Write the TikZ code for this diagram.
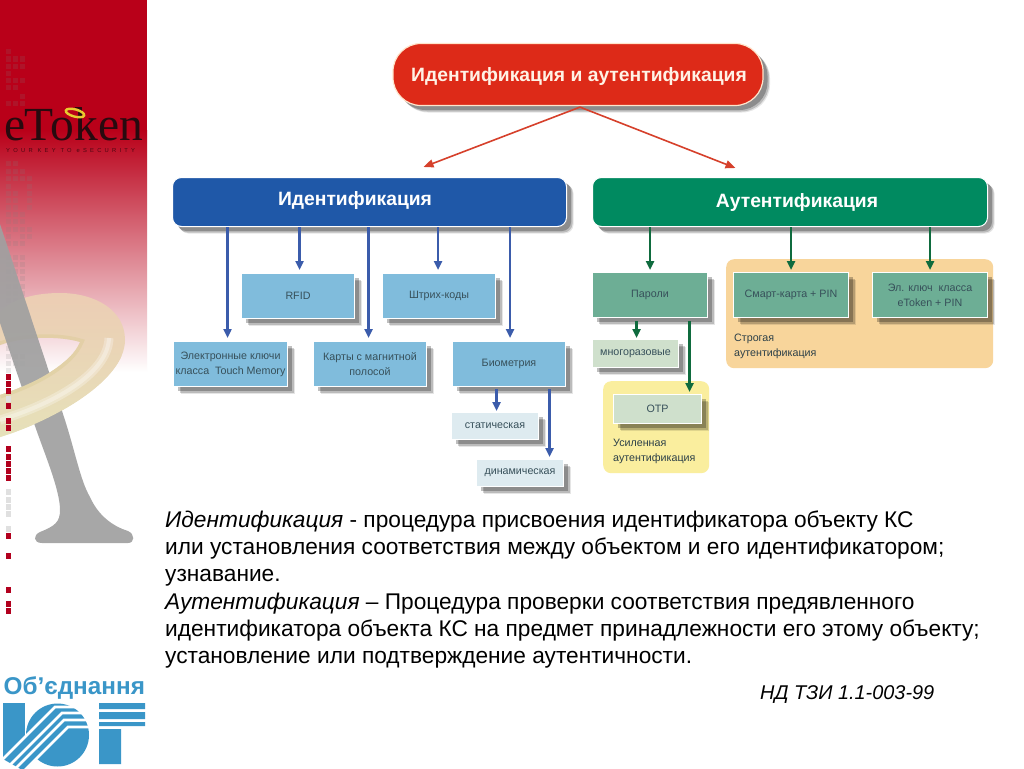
\documentclass[tikz,border=0pt]{standalone}
\usepackage{fontspec}
\setmainfont{Liberation Sans}
\newfontfamily\logoserif{Liberation Serif}
\newfontfamily\logotag[LetterSpace=56]{Liberation Sans}
\usetikzlibrary{arrows.meta,shadows}
\definecolor{sidered}{RGB}{185,0,25}
\definecolor{sidemid}{RGB}{228,160,170}
\definecolor{topred}{RGB}{221,42,24}
\definecolor{idblue}{RGB}{31,88,168}
\definecolor{authgreen}{RGB}{0,138,96}
\definecolor{boxblue}{RGB}{128,188,220}
\definecolor{boxgreen}{RGB}{109,174,149}
\definecolor{palebl}{RGB}{222,235,240}
\definecolor{palegr}{RGB}{207,224,204}
\definecolor{zoneor}{RGB}{248,213,155}
\definecolor{zoneye}{RGB}{250,238,158}
\definecolor{arrblue}{RGB}{59,92,171}
\definecolor{arrgreen}{RGB}{15,107,62}
\definecolor{arrred}{RGB}{214,64,43}
\definecolor{boxtext}{RGB}{55,80,90}
\definecolor{logoblue}{RGB}{58,150,200}
\definecolor{agrey}{RGB}{160,160,160}
\definecolor{dotred}{RGB}{178,0,30}
\definecolor{logodark}{RGB}{40,10,15}
\definecolor{torustop}{RGB}{236,205,180}
\definecolor{torusmid}{RGB}{238,231,195}
\definecolor{torusbot}{RGB}{230,225,185}
\definecolor{torusedge}{RGB}{214,200,140}
\tikzset{
  softshadow/.style={
    general shadow={fill=black,opacity=.10,shadow xshift=7pt,shadow yshift=-7pt},
    general shadow={fill=black,opacity=.18,shadow xshift=6pt,shadow yshift=-6pt},
    general shadow={fill=black,opacity=.25,shadow xshift=4.5pt,shadow yshift=-4.5pt}},
  basebox/.style={softshadow,draw=white,line width=1pt,inner sep=0pt,anchor=north west,align=center,
    text=boxtext,font=\fontsize{10.7}{15}\selectfont},
  bar/.style={basebox,rounded corners=9pt,text=white},
  barlabel/.style={text=white,inner sep=0pt,font=\bfseries\fontsize{19.3}{22}\selectfont},
  bluebox/.style={basebox,fill=boxblue,minimum width=113pt,minimum height=45pt},
  greenbox/.style={basebox,fill=boxgreen,minimum width=115pt,minimum height=45pt},
  palebox/.style={basebox,fill=palebl,minimum width=87pt,minimum height=27pt},
  paleboxg/.style={basebox,fill=palegr,minimum width=87pt,minimum height=28pt},
  zone/.style={rounded corners=8pt,anchor=north west,inner sep=0pt},
  zonetext/.style={anchor=north west,inner sep=0pt,align=left,text=boxtext!80!black,font=\fontsize{10.7}{14.5}\selectfont},
  tipA/.style={-{Triangle[width=8pt,length=9pt]},line width=2.3pt},
  bluearrow/.style={tipA,draw=arrblue},
  greenarrow/.style={tipA,draw=arrgreen},
  redarrow/.style={-{Triangle[width=8pt,length=10pt]},line width=1.6pt,draw=arrred},
  para/.style={anchor=north west,inner sep=0pt,align=left,font=\fontsize{22.7}{27.3}\selectfont},
  torus/.style={top color=torustop,middle color=torusmid,bottom color=torusbot}
}
\newcommand{\toruspath}{(0,312) .. controls (12,299) and (35,293) .. (60,293) .. controls (95,293) and (125,310) .. (125,340)
  .. controls (125,380) and (55,420) .. (0,437) -- (0,395) .. controls (40,382) and (72,362) .. (80,342)
  .. controls (60,336) and (25,336) .. (0,345) -- cycle}
\newcommand{\torusbody}{%
  \shade[torus,even odd rule] \toruspath;
  \begin{scope}
    \clip \toruspath;
    \draw[torusedge,line width=7pt,opacity=.35] (0,395) .. controls (40,382) and (72,362) .. (80,342) .. controls (60,336) and (25,336) .. (0,345);
    \draw[white,line width=9pt,opacity=.28] (0,420) .. controls (50,405) and (108,375) .. (109,338);
    \draw[white,line width=4pt,opacity=.3] (0,420) .. controls (50,405) and (108,375) .. (109,338);
  \end{scope}}
\begin{document}
\begin{tikzpicture}[x=1pt,y=-1pt]
\useasboundingbox (0,0) rectangle (1024,768);
\fill[white] (0,0) rectangle (1024,768);
% side band
\fill[sidered] (0,0) rectangle (147,130.5);
\shade[top color=sidered,middle color=sidemid,bottom color=white] (0,130) rectangle (147,372);
% pale grid
\foreach \r/\cols in {52/{8},59/{8,15,22},66/{8,15,22},73/{8},80/{8,15,22},87/{8,15},96/{22},103/{8,15,22},
  163/{8,15},171/{8,15,22},178/{8,15,22,29},186/{8,29},193/{8,15,29},200/{8,15,29},207/{8,15,29},214/{8,15,22},221/{8,15,22},229/{8,15,22,29},236/{8,22,29},243/{8,15,22},
  257/{8,15,22},264/{8,15,22},271/{8,15,22},278/{8,15,22},286/{8,15,22},293/{8,15,22},300/{8,15,22},307/{8,15,22},314/{8,15,22},321/{8,15,22},328/{8,15},335/{8,15,22},
  348/{8},356/{8,15,22},363/{8,15,22},370/{8}}{
  \foreach \c in \cols {\fill[gray,opacity=.16] (\c-2.5,\r-2.5) rectangle (\c+2.5,\r+2.5);}
}
% torus and A
\torusbody
\fill[agrey,opacity=.92] (0,224) -- (63,414) .. controls (75,450) and (80,480) .. (90,497)
  .. controls (98,515) and (112,526) .. (128,531) .. controls (135,534) and (135,543) .. (128,543)
  -- (42,543) .. controls (33,543) and (33,535) .. (40,532) .. controls (55,526) and (60,522) .. (60,510)
  .. controls (60,490) and (45,455) .. (35,426) -- (0,323) -- cycle;
\begin{scope}
  \clip (0,356) rectangle (147,445);
  \torusbody
\end{scope}
% red and grey marks
\foreach \r in {377,384,391,406,421,428,449,457,464,471,478,536,556,590,604,611}{
  \fill[dotred] (5.5,\r-2.7) rectangle (11,\r+2.7);}
\foreach \r in {399,492,500,507,514,529}{
  \fill[black!12] (5.5,\r-2.7) rectangle (11,\r+2.7);}
% eToken logo
\node[anchor=base west,inner sep=0pt,text=logodark,font=\logoserif\fontsize{47.5}{48}\selectfont] (etoken) at (4.5,140) {e\kern-1ptT\kern-3ptoken};
\draw[draw=yellow!60!brown,line width=2.4pt,rotate around={-15:(75,113)}] (75,113) ellipse [x radius=9.5pt,y radius=3.6pt];
\node[anchor=base west,inner sep=0pt,text=logodark!75!sidered,font=\logotag\fontsize{5.8}{6}\selectfont] (etag) at (6,152.5) {YOUR KEY TO eSECURITY};
% bottom logo
\node[anchor=base west,inner sep=0pt,text=logoblue,font=\bfseries\fontsize{24.3}{26}\selectfont] (ob) at (3.5,694) {Об'єднання};
\begin{scope}
  \clip (0,690) rectangle (147,768);
  \fill[logoblue] (3,703) rectangle (25,760);
  \fill[logoblue] (57.5,735) circle [radius=31.5pt];
  \fill[logoblue] (55,707) -- (3,759) -- (24,771) -- (68,727) -- cycle;
  \fill[logoblue] (99,703) rectangle (145,709) (99,712) rectangle (145,719) (99,722) rectangle (145,726) (99,729) rectangle (121,764);
  \foreach \a/\b/\c/\d/\e/\f in {92/707/55/707/-1/763,92/713/62/713/6/769,92/720/64/720/15/769,92/727/68/727/24/771}{
    \draw[white,line width=2.6pt] (\a,\b) -- (\c,\d) -- (\e,\f);}
\end{scope}
% top
\node[bar,anchor=center,rounded corners=28pt,fill=topred,draw=white!80!orange,line width=1.2pt,minimum width=370pt,minimum height=62pt] (top) at (578,74.5) {};
\node[barlabel,text=white!90!orange] (toplabel) at (579,77) {Идентификация и аутентификация};
\node[bar,fill=idblue,minimum width=394pt,minimum height=49pt] (id) at (172,177) {};
\node[barlabel] (idlabel) at (355,201) {Идентификация};
\node[bar,fill=authgreen,minimum width=395pt,minimum height=49pt] (auth) at (592,177) {};
\node[barlabel] (authlabel) at (797,203) {Аутентификация};
% identification boxes
\node[bluebox] (rfid) at (241,273) {RFID};
\node[bluebox] (bar1) at (382,273) {Штрих-коды};
\node[bluebox,minimum width=114pt] (ekey) at (173,341) {Электронные ключи\\класса\ \ Touch Memory};
\node[bluebox] (card) at (313,341) {Карты с магнитной\\полосой};
\node[bluebox] (bio) at (452,341) {Биометрия};
\node[palebox] (stat) at (451,412) {статическая};
\node[palebox] (dyn) at (476,459) {динамическая};
% zones
\node[zone,fill=zoneor,minimum width=267pt,minimum height=109pt] (strong) at (726,259) {};
\node[zone,fill=zoneye,minimum width=106pt,minimum height=92pt] (enh) at (603,381) {};
% authentication boxes
\node[greenbox] (pass) at (592,272) {Пароли};
\node[greenbox] (smart) at (733,272) {Смарт-карта + PIN};
\node[greenbox] (etk) at (872,272) {Эл. ключ\ \ класса\\eToken + PIN};
\node[paleboxg,minimum width=86pt] (multi) at (592,339) {многоразовые};
\node[paleboxg,minimum width=88pt,minimum height=29pt] (otp) at (613,394) {OTP};
\node[zonetext] (strongt) at (734,334) {Строгая\\аутентификация};
\node[zonetext] (enht) at (613,439) {Усиленная\\аутентификация};
% connectors
\coordinate (topfoot) at ([xshift=2pt,yshift=-1pt]top.south);
\coordinate (tipid) at ([xshift=54pt,yshift=10pt]id.north);
\coordinate (tipauth) at ([xshift=-54.5pt,yshift=9pt]auth.north);
\draw[redarrow] (topfoot) -- (tipid);
\draw[redarrow] (topfoot) -- (tipauth);
\draw[bluearrow] ([xshift=-3pt]ekey.north |- id.south) -- ([xshift=-3pt,yshift=3pt]ekey.north);
\draw[bluearrow] ([xshift=1.5pt]rfid.north |- id.south) -- ([xshift=1.5pt,yshift=3pt]rfid.north);
\draw[bluearrow] ([xshift=-1.5pt]card.north |- id.south) -- ([xshift=-1.5pt,yshift=3pt]card.north);
\draw[bluearrow] ([xshift=-1pt]bar1.north |- id.south) -- ([xshift=-1pt,yshift=3pt]bar1.north);
\draw[bluearrow] ([xshift=1pt]bio.north |- id.south) -- ([xshift=1pt,yshift=3pt]bio.north);
\draw[bluearrow] ([xshift=1.5pt,yshift=-2pt]stat.north |- bio.south) -- ([xshift=1.5pt,yshift=1pt]stat.north);
\draw[bluearrow] ([xshift=29.5pt,yshift=-2pt]dyn.north |- bio.south) -- ([xshift=29.5pt,yshift=2pt]dyn.north);
\draw[greenarrow] (pass.north |- auth.south) -- ([yshift=2pt]pass.north);
\draw[greenarrow] (smart.north |- auth.south) -- ([yshift=2pt]smart.north);
\draw[greenarrow] (etk.north |- auth.south) -- ([yshift=2pt]etk.north);
\draw[greenarrow] ([xshift=1pt,yshift=-3pt]multi.north |- pass.south) -- ([xshift=1pt,yshift=1pt]multi.north);
\draw[greenarrow] ([xshift=32pt,yshift=-3pt]otp.north |- pass.south) -- ([xshift=32pt,yshift=2pt]otp.north);
% text
\node[para] (body) at (165,510.5) {\textit{Идентификация} - процедура присвоения идентификатора объекту КС\\
или установления соответствия между объектом и его идентификатором;\\
узнавание.\\
\textit{Аутентификация} – Процедура проверки соответствия предявленного\\
идентификатора объекта КС на предмет принадлежности его этому объекту;\\
установление или подтверждение аутентичности.};
\node[anchor=base west,inner sep=0pt,font=\itshape\fontsize{19.9}{22}\selectfont] (ref) at (760,699) {НД ТЗИ 1.1-003-99};
\end{tikzpicture}
\end{document}
